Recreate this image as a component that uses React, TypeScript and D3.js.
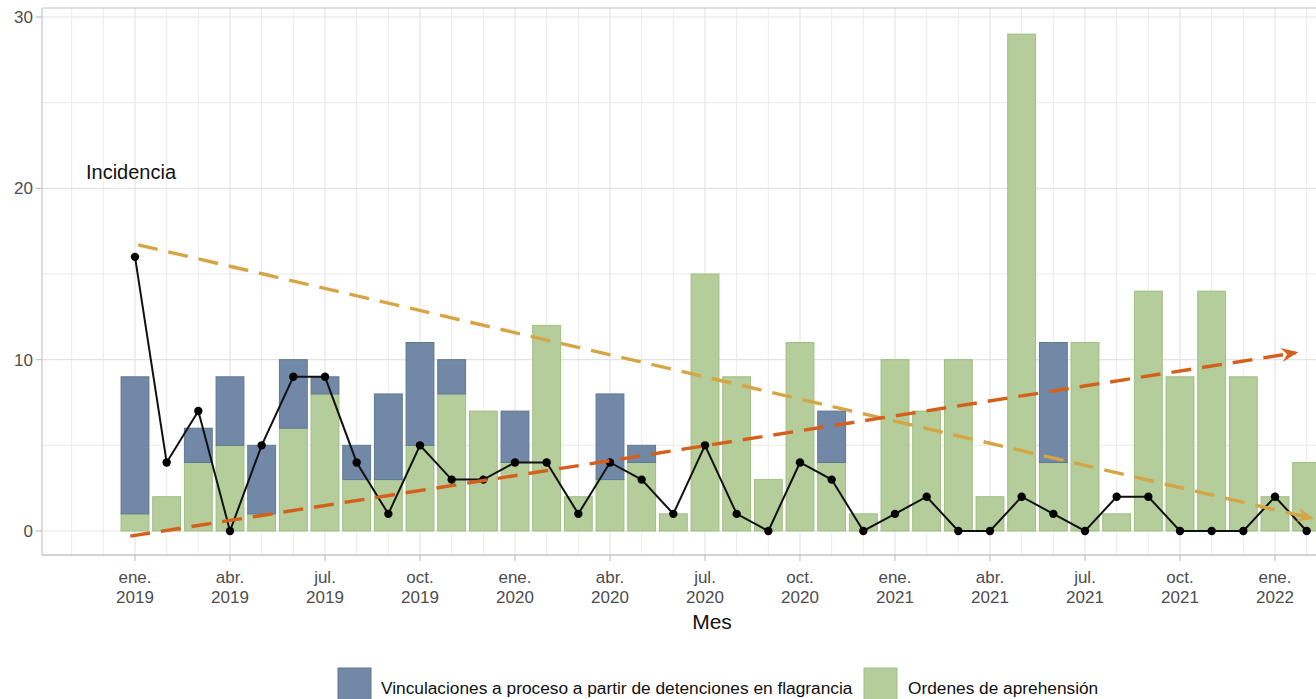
import React from "react";
import * as d3 from "d3";

const months: string[] = [
  "2019-01","2019-02","2019-03","2019-04","2019-05","2019-06","2019-07","2019-08","2019-09","2019-10","2019-11","2019-12",
  "2020-01","2020-02","2020-03","2020-04","2020-05","2020-06","2020-07","2020-08","2020-09","2020-10","2020-11","2020-12",
  "2021-01","2021-02","2021-03","2021-04","2021-05","2021-06","2021-07","2021-08","2021-09","2021-10","2021-11","2021-12",
  "2022-01","2022-02",
];
const ordenes: number[] = [1,2,4,5,1,6,8,3,3,5,8,7,4,12,2,3,4,1,15,9,3,11,4,1,10,7,10,2,29,4,11,1,14,9,14,9,2,4];
const vinculaciones: number[] = [8,0,2,4,4,4,1,2,5,6,2,0,3,0,0,5,1,0,0,0,0,0,3,0,0,0,0,0,0,7,0,0,0,0,0,0,0,0];
const incidencia: number[] = [16,4,7,0,5,9,9,4,1,5,3,3,4,4,1,4,3,1,5,1,0,4,3,0,1,2,0,0,2,1,0,2,2,0,0,0,2,0];

const tickMonthIdx: number[] = [0,3,6,9,12,15,18,21,24,27,30,33,36];
const tickLabelsTop: string[] = ["ene.","abr.","jul.","oct.","ene.","abr.","jul.","oct.","ene.","abr.","jul.","oct.","ene."];
const tickLabelsBottom: string[] = ["2019","2019","2019","2019","2020","2020","2020","2020","2021","2021","2021","2021","2022"];
const yTicks: number[] = [0,10,20,30];
const yGrid: number[] = [0,5,10,15,20,25,30];

// trend arrows (month index, value)
const trendUp = [{ m: -0.15, v: -0.3 }, { m: 36.65, v: 10.4 }];
const trendDown = [{ m: 0.1, v: 16.7 }, { m: 37.15, v: 0.75 }];

const legendLabels = ["Vinculaciones a proceso a partir de detenciones en flagrancia", "Ordenes de aprehensión"];

const W = 1316, H = 699;
const panelLeft = 42, panelTop = 8, panelBottom = 555, panelRight = 1340;
const BLUE = "#7189a6", BLUE_S = "#5f7893";
const GREEN = "#b4cd9a", GREEN_S = "#9fbe82";
const ORANGE = "#d4601c", TAN = "#d6a546";
const FONT = "'Liberation Sans', Arial, sans-serif";

export default function App() {
  const x = d3.scaleLinear().domain([0, 36]).range([135, 1275]);
  const y = d3.scaleLinear().domain([0, 30]).range([531, 17]);
  const bw = (x(1) - x(0)) * 0.88;

  const gridMonths = d3.range(-2, 40).filter((i) => x(i) > panelLeft && x(i) < panelRight);

  const line = d3.line<number>().x((_, i) => x(i)).y((d) => y(d));
  const tl = d3.line<{ m: number; v: number }>().x((d) => x(d.m)).y((d) => y(d.v));

  return (
    <svg width={W} height={H} style={{ position: "absolute", left: 0, top: 0, background: "#fff" }} fontFamily={FONT}>
      <defs>
        <marker id="arrO" viewBox="0 0 12 10" refX="10" refY="5" markerWidth="5" markerHeight="5" markerUnits="strokeWidth" orient="auto">
          <path d="M0,0 L12,5 L0,10 L4,5 z" fill={ORANGE} />
        </marker>
        <marker id="arrT" viewBox="0 0 12 10" refX="10" refY="5" markerWidth="5" markerHeight="5" markerUnits="strokeWidth" orient="auto">
          <path d="M0,0 L12,5 L0,10 L4,5 z" fill={TAN} />
        </marker>
        <clipPath id="panel">
          <rect x={panelLeft} y={panelTop} width={panelRight - panelLeft} height={panelBottom - panelTop} />
        </clipPath>
      </defs>
      {/* grid */}
      <g>
        {yGrid.map((v) => (
          <line key={"hy" + v} x1={panelLeft} x2={panelRight} y1={y(v)} y2={y(v)} stroke="#e4e4e4" strokeWidth={v % 10 === 0 ? 1.2 : 0.8} />
        ))}
        {gridMonths.map((i) => (
          <line key={"vx" + i} x1={x(i)} x2={x(i)} y1={panelTop} y2={panelBottom} stroke="#e4e4e4" strokeWidth={i % 3 === 0 ? 1.2 : 0.8} />
        ))}
      </g>
      {/* bars */}
      <g clipPath="url(#panel)">
        {months.map((m, i) => (
          <g key={m}>
            {ordenes[i] > 0 && (
              <rect x={x(i) - bw / 2} y={y(ordenes[i])} width={bw} height={y(0) - y(ordenes[i])} fill={GREEN} stroke={GREEN_S} strokeWidth={1} />
            )}
            {vinculaciones[i] > 0 && (
              <rect x={x(i) - bw / 2} y={y(ordenes[i] + vinculaciones[i])} width={bw} height={y(ordenes[i]) - y(ordenes[i] + vinculaciones[i])} fill={BLUE} stroke={BLUE_S} strokeWidth={1} />
            )}
          </g>
        ))}
        {/* line */}
        <path d={line(incidencia) || ""} fill="none" stroke="#111" strokeWidth={2} />
        {incidencia.map((v, i) => (
          <circle key={"p" + i} cx={x(i)} cy={y(v)} r={4.2} fill="#000" />
        ))}
      </g>
      {/* trends */}
      <path d={tl(trendDown) || ""} fill="none" stroke={TAN} strokeWidth={3.4} strokeDasharray="20 11" markerEnd="url(#arrT)" />
      <path d={tl(trendUp) || ""} fill="none" stroke={ORANGE} strokeWidth={3.4} strokeDasharray="20 11" markerEnd="url(#arrO)" />
      {/* panel border */}
      <line x1={panelLeft} x2={panelRight} y1={panelTop} y2={panelTop} stroke="#c4c4c4" strokeWidth={1.2} />
      <line x1={panelLeft} x2={panelLeft} y1={panelTop} y2={panelBottom} stroke="#c4c4c4" strokeWidth={1.2} />
      <line x1={panelLeft} x2={panelRight} y1={panelBottom} y2={panelBottom} stroke="#c4c4c4" strokeWidth={1.6} />
      {/* y axis */}
      {yTicks.map((v) => (
        <g key={"yt" + v}>
          <line x1={panelLeft - 6} x2={panelLeft} y1={y(v)} y2={y(v)} stroke="#c4c4c4" strokeWidth={1.2} />
          <text x={panelLeft - 9} y={y(v)} dy="0.35em" textAnchor="end" fontSize={17} fill="#4d4d4d">{v}</text>
        </g>
      ))}
      {/* x axis */}
      {tickMonthIdx.map((m, k) => (
        <g key={"xt" + m}>
          <line x1={x(m)} x2={x(m)} y1={panelBottom} y2={panelBottom + 6} stroke="#c4c4c4" strokeWidth={1.2} />
          <text x={x(m)} y={583} textAnchor="middle" fontSize={17} fill="#4d4d4d">{tickLabelsTop[k]}</text>
          <text x={x(m)} y={603} textAnchor="middle" fontSize={17} fill="#4d4d4d">{tickLabelsBottom[k]}</text>
        </g>
      ))}
      <text x={712} y={629} textAnchor="middle" fontSize={21} fill="#111">Mes</text>
      <text x={86} y={179} fontSize={20} fill="#111">Incidencia</text>
      {/* legend */}
      <rect x={338} y={668} width={33} height={33} fill={BLUE} stroke={BLUE_S} />
      <text x={381} y={694} fontSize={17.3} fill="#111">{legendLabels[0]}</text>
      <rect x={864} y={668} width={33} height={33} fill={GREEN} stroke={GREEN_S} />
      <text x={908} y={694} fontSize={17.3} fill="#111">{legendLabels[1]}</text>
    </svg>
  );
}
